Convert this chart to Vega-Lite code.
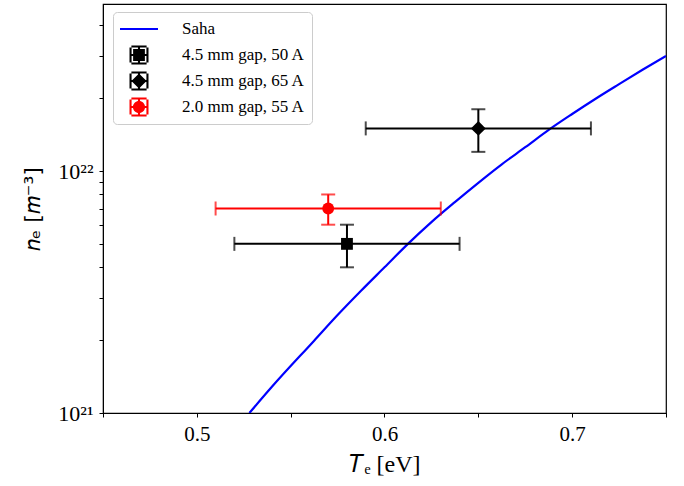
{
  "$schema": "https://vega.github.io/schema/vega-lite/v6.json",
  "autosize": {"type": "none"},
  "padding": {"left": 103, "top": 4, "right": 18, "bottom": 73},
  "width": 563,
  "height": 409,
  "background": "white",
  "config": {
    "view": {"stroke": "#000000", "strokeWidth": 1.2},
    "axis": {
      "grid": false,
      "domainColor": "#000000",
      "tickColor": "#000000",
      "labelColor": "#000000",
      "titleColor": "#000000",
      "labelFont": "Liberation Serif",
      "tickSize": 4
    },
    "legend": {
      "orient": "none",
      "legendX": 10,
      "legendY": 8,
      "padding": 7,
      "fillColor": "#ffffff",
      "strokeColor": "#cccccc",
      "cornerRadius": 4,
      "labelFont": "Liberation Serif",
      "labelFontSize": 17,
      "labelColor": "#000000",
      "labelOffset": 24,
      "rowPadding": 6,
      "clipHeight": 20,
      "symbolSize": 1444,
      "symbolStrokeWidth": 0,
      "symbolOpacity": 1
    }
  },
  "datasets": {
    "saha": [
      {"T": 0.528, "n": 1.0e21},
      {"T": 0.54, "n": 1.283e21},
      {"T": 0.5625, "n": 1.99e21},
      {"T": 0.575, "n": 2.54e21},
      {"T": 0.5875, "n": 3.2e21},
      {"T": 0.6, "n": 4.0e21},
      {"T": 0.6125, "n": 5.0e21},
      {"T": 0.625, "n": 6.15e21},
      {"T": 0.6375, "n": 7.44e21},
      {"T": 0.65, "n": 8.94e21},
      {"T": 0.6625, "n": 1.066e22},
      {"T": 0.675, "n": 1.254e22},
      {"T": 0.6875, "n": 1.479e22},
      {"T": 0.7, "n": 1.72e22},
      {"T": 0.7125, "n": 1.989e22},
      {"T": 0.725, "n": 2.285e22},
      {"T": 0.7375, "n": 2.62e22},
      {"T": 0.75, "n": 2.99e22}
    ],
    "meas": [
      {"series": "4.5 mm gap, 50 A", "T": 0.58, "Tlo": 0.52, "Thi": 0.64, "n": 5.0e21, "nlo": 4.0e21, "nhi": 6.0e21},
      {"series": "4.5 mm gap, 65 A", "T": 0.65, "Tlo": 0.59, "Thi": 0.71, "n": 1.5e22, "nlo": 1.2e22, "nhi": 1.8e22},
      {"series": "2.0 mm gap, 55 A", "T": 0.57, "Tlo": 0.51, "Thi": 0.63, "n": 7.0e21, "nlo": 6.0e21, "nhi": 8.0e21}
    ]
  },
  "encoding": {
    "x": {
      "type": "quantitative",
      "scale": {"domain": [0.45, 0.75], "nice": false, "zero": false},
      "axis": {
        "values": [0.45, 0.5, 0.55, 0.6, 0.65, 0.7, 0.75],
        "labelExpr": "round(datum.value * 100) % 10 == 0 ? format(datum.value, '.1f') : ''",
        "labelFontSize": 21,
        "labelPadding": 6,
        "title": "𝑇ₑ [eV]",
        "titleFont": "Liberation Serif",
        "titleFontSize": 24,
        "titleFontWeight": "normal",
        "titlePadding": 8
      }
    },
    "y": {
      "type": "quantitative",
      "scale": {"type": "log", "domain": [1e21, 4.9e22], "nice": false},
      "axis": {
        "values": [1e21, 2e21, 3e21, 4e21, 5e21, 6e21, 7e21, 8e21, 9e21, 1e22, 2e22, 3e22, 4e22],
        "labelExpr": "datum.value == 1e21 ? '10²¹' : (datum.value == 1e22 ? '10²²' : '')",
        "labelFontSize": 22,
        "labelPadding": 6,
        "title": "𝑛ₑ [𝑚⁻³]",
        "titleFont": "DejaVu Sans",
        "titleFontSize": 22,
        "titleFontWeight": "normal",
        "titlePadding": 13
      }
    }
  },
  "layer": [
    {
      "data": {"name": "saha"},
      "mark": {"type": "line", "color": "#0000ff", "strokeWidth": 2.2, "clip": true, "interpolate": "monotone"},
      "encoding": {
        "x": {"field": "T", "type": "quantitative"},
        "y": {"field": "n", "type": "quantitative"}
      }
    },
    {
      "data": {"name": "meas"},
      "mark": {"type": "errorbar", "thickness": 2, "ticks": {"size": 14}},
      "encoding": {
        "x": {"field": "Tlo", "type": "quantitative"},
        "x2": {"field": "Thi"},
        "y": {"field": "n", "type": "quantitative"},
        "color": {"field": "series", "type": "nominal"}
      }
    },
    {
      "data": {"name": "meas"},
      "mark": {"type": "errorbar", "thickness": 2, "ticks": {"size": 14}},
      "encoding": {
        "x": {"field": "T", "type": "quantitative"},
        "y": {"field": "nlo", "type": "quantitative"},
        "y2": {"field": "nhi"},
        "color": {"field": "series", "type": "nominal"}
      }
    },
    {
      "data": {"name": "meas"},
      "transform": [{"filter": "datum.series == '4.5 mm gap, 50 A'"}],
      "mark": {"type": "point", "shape": "square", "filled": true, "opacity": 1, "size": 140},
      "encoding": {
        "x": {"field": "T", "type": "quantitative"},
        "y": {"field": "n", "type": "quantitative"},
        "color": {"field": "series", "type": "nominal"}
      }
    },
    {
      "data": {"name": "meas"},
      "transform": [{"filter": "datum.series == '4.5 mm gap, 65 A'"}],
      "mark": {"type": "point", "shape": "diamond", "filled": true, "opacity": 1, "size": 220},
      "encoding": {
        "x": {"field": "T", "type": "quantitative"},
        "y": {"field": "n", "type": "quantitative"},
        "color": {"field": "series", "type": "nominal"}
      }
    },
    {
      "data": {"name": "meas"},
      "transform": [{"filter": "datum.series == '2.0 mm gap, 55 A'"}],
      "mark": {"type": "point", "shape": "circle", "filled": true, "opacity": 1, "size": 140},
      "encoding": {
        "x": {"field": "T", "type": "quantitative"},
        "y": {"field": "n", "type": "quantitative"},
        "color": {"field": "series", "type": "nominal"}
      }
    },
    {
      "description": "Legend keys: the Saha line and each marker with its error-bar cross",
      "data": {"name": "meas"},
      "transform": [{"filter": "false"}],
      "mark": {"type": "point", "filled": true, "opacity": 1, "strokeWidth": 0, "size": 1444},
      "encoding": {
        "x": {"field": "T", "type": "quantitative"},
        "y": {"field": "n", "type": "quantitative"},
        "color": {
          "field": "series",
          "type": "nominal",
          "title": null,
          "scale": {
            "domain": ["Saha", "4.5 mm gap, 50 A", "4.5 mm gap, 65 A", "2.0 mm gap, 55 A"],
            "range": ["#0000ff", "#000000", "#000000", "#ff0000"]
          }
        },
        "shape": {
          "field": "series",
          "type": "nominal",
          "title": null,
          "scale": {
            "domain": ["Saha", "4.5 mm gap, 50 A", "4.5 mm gap, 65 A", "2.0 mm gap, 55 A"],
            "range": [
              "M-1,-0.055H1V0.055H-1Z",
              "M-0.5,-0.055H0.5V0.055H-0.5Z M-0.055,-0.5H0.055V0.5H-0.055Z M-0.5,-0.4H-0.39V0.4H-0.5Z M0.39,-0.4H0.5V0.4H0.39Z M-0.4,-0.5H0.4V-0.39H-0.4Z M-0.4,0.39H0.4V0.5H-0.4Z M-0.31,-0.31H0.31V0.31H-0.31Z",
              "M-0.5,-0.055H0.5V0.055H-0.5Z M-0.055,-0.5H0.055V0.5H-0.055Z M-0.5,-0.4H-0.39V0.4H-0.5Z M0.39,-0.4H0.5V0.4H0.39Z M-0.4,-0.5H0.4V-0.39H-0.4Z M-0.4,0.39H0.4V0.5H-0.4Z M0,-0.4L0.4,0L0,0.4L-0.4,0Z",
              "M-0.5,-0.055H0.5V0.055H-0.5Z M-0.055,-0.5H0.055V0.5H-0.055Z M-0.5,-0.4H-0.39V0.4H-0.5Z M0.39,-0.4H0.5V0.4H0.39Z M-0.4,-0.5H0.4V-0.39H-0.4Z M-0.4,0.39H0.4V0.5H-0.4Z M-0.32,0A0.32,0.32 0 1,1 0.32,0A0.32,0.32 0 1,1 -0.32,0Z"
            ]
          }
        }
      }
    }
  ]
}
